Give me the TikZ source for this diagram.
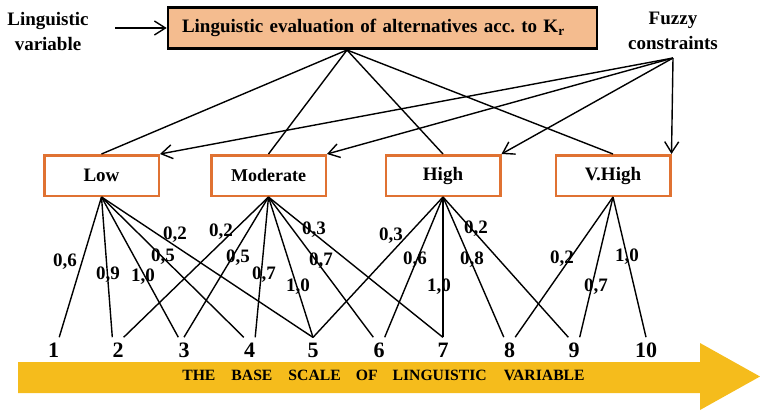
\documentclass[tikz,border=0pt]{standalone}
\usepackage{fontspec}
\setmainfont{Liberation Serif}
\usetikzlibrary{arrows.meta}
\definecolor{evalfill}{RGB}{244,188,143}
\definecolor{termedge}{RGB}{224,114,50}
\definecolor{scalefill}{RGB}{245,188,28}

\begin{document}
\begin{tikzpicture}[x=1pt, y=-1pt,
  >={Straight Barb[length=11pt, width=14pt, line width=1.4pt]},
  link/.style={line width=1.4pt},
  term/.style={draw=termedge, fill=white, line width=2.5pt, minimum width=114.5pt, minimum height=40.5pt,
    inner sep=0pt, font=\fontsize{19}{22}\selectfont\bfseries},
  side/.style={font=\fontsize{19}{25}\selectfont\bfseries, align=center},
  wt/.style={font=\fontsize{19}{22}\selectfont\bfseries, inner sep=0pt},
  num/.style={font=\fontsize{22}{24}\selectfont\bfseries, anchor=base, inner xsep=0pt, inner ysep=5pt}]

\useasboundingbox (0,0) rectangle (760,413);

%% ── base scale arrow (background) ────────────────────────────────
\fill[scalefill] (18,362) -- (700,362) -- (700,343) -- (760,376.5) -- (700,410) -- (700,393) -- (18,393) -- cycle;
\node[font=\fontsize{15.7}{18}\selectfont\bfseries, anchor=base] (scale) at (383.5,380)
  {THE\hspace{16pt}BASE\hspace{16pt}SCALE\hspace{15pt}OF\hspace{15pt}LINGUISTIC\hspace{17pt}VARIABLE};

%% ── top box and side labels ──────────────────────────────────────
\node[draw=black, line width=2.6pt, fill=evalfill, text width=401pt, align=left, inner xsep=14pt,
  minimum height=41.5pt, font=\fontsize{19}{22}\selectfont\bfseries] (eval) at (382.5,28)
  {Linguistic evaluation of alternatives acc.\ to K\textsubscript{r}};
\node[side] (ling) at (48,31) {Linguistic\\variable};
\node[side] (fuzzy) at (673,31) {Fuzzy\\constraints};
\coordinate (lvin) at (115,28);
\coordinate (fz) at (673,58);
\coordinate (evb) at (347,50);
\draw[link, ->] (lvin) -- (eval.west);

%% ── linguistic terms ─────────────────────────────────────────────
\node[term] (low) at (101.5,175.5) {Low};
\node[term, font=\fontsize{18}{22}\selectfont\bfseries] (mod) at (268.5,175.5) {Moderate};
\node[term] (high) at (443,175.5) {High};
\node[term] (vhigh) at (613,175.5) {V.High};

\foreach \t in {low,mod,high,vhigh}{
  \draw[link] (evb) -- (\t.north);
  \draw[link, ->] (fz) -- (\t.north east);
}

%% ── base scale values ────────────────────────────────────────────
\foreach \x [count=\i] in {53.5,118,184,249.5,313,379,443,509.5,574,646}
  \node[num] (n\i) at (\x,357) {\i};

%% ── membership links ─────────────────────────────────────────────
\foreach \a/\b in {low/n1.north east, low/n2.north west, low/n3.north west, low/n4.north west, low/n5.north,
  mod/n2.north east, mod/n3.north, mod/n4.north east, mod/n5.north, mod/n6.north west, mod/n7.north,
  high/n5.north, high/n6.north east, high/n7.north, high/n8.north west, high/n9.north west,
  vhigh/n8.north east, vhigh/n9.north east, vhigh/n10.north}
  \draw[link] (\a.south) -- (\b);

%% ── membership degrees ───────────────────────────────────────────
\foreach \x/\y/\t [count=\i] in {65/262/{0,6}, 108/275/{0,9}, 143/277/{1,0}, 163/257/{0,5}, 175/235/{0,2},
  221/232/{0,2}, 238/258/{0,5}, 264/275/{0,7}, 298/287/{1,0}, 314/230/{0,3}, 321/261/{0,7},
  391/236/{0,3}, 415/260/{0,6}, 439/287/{1,0}, 472/260/{0,8}, 476/229/{0,2},
  562/259/{0,2}, 596/287/{0,7}, 627/257/{1,0}}
  \node[wt] (w\i) at (\x,\y) {\t};

\end{tikzpicture}
\end{document}
